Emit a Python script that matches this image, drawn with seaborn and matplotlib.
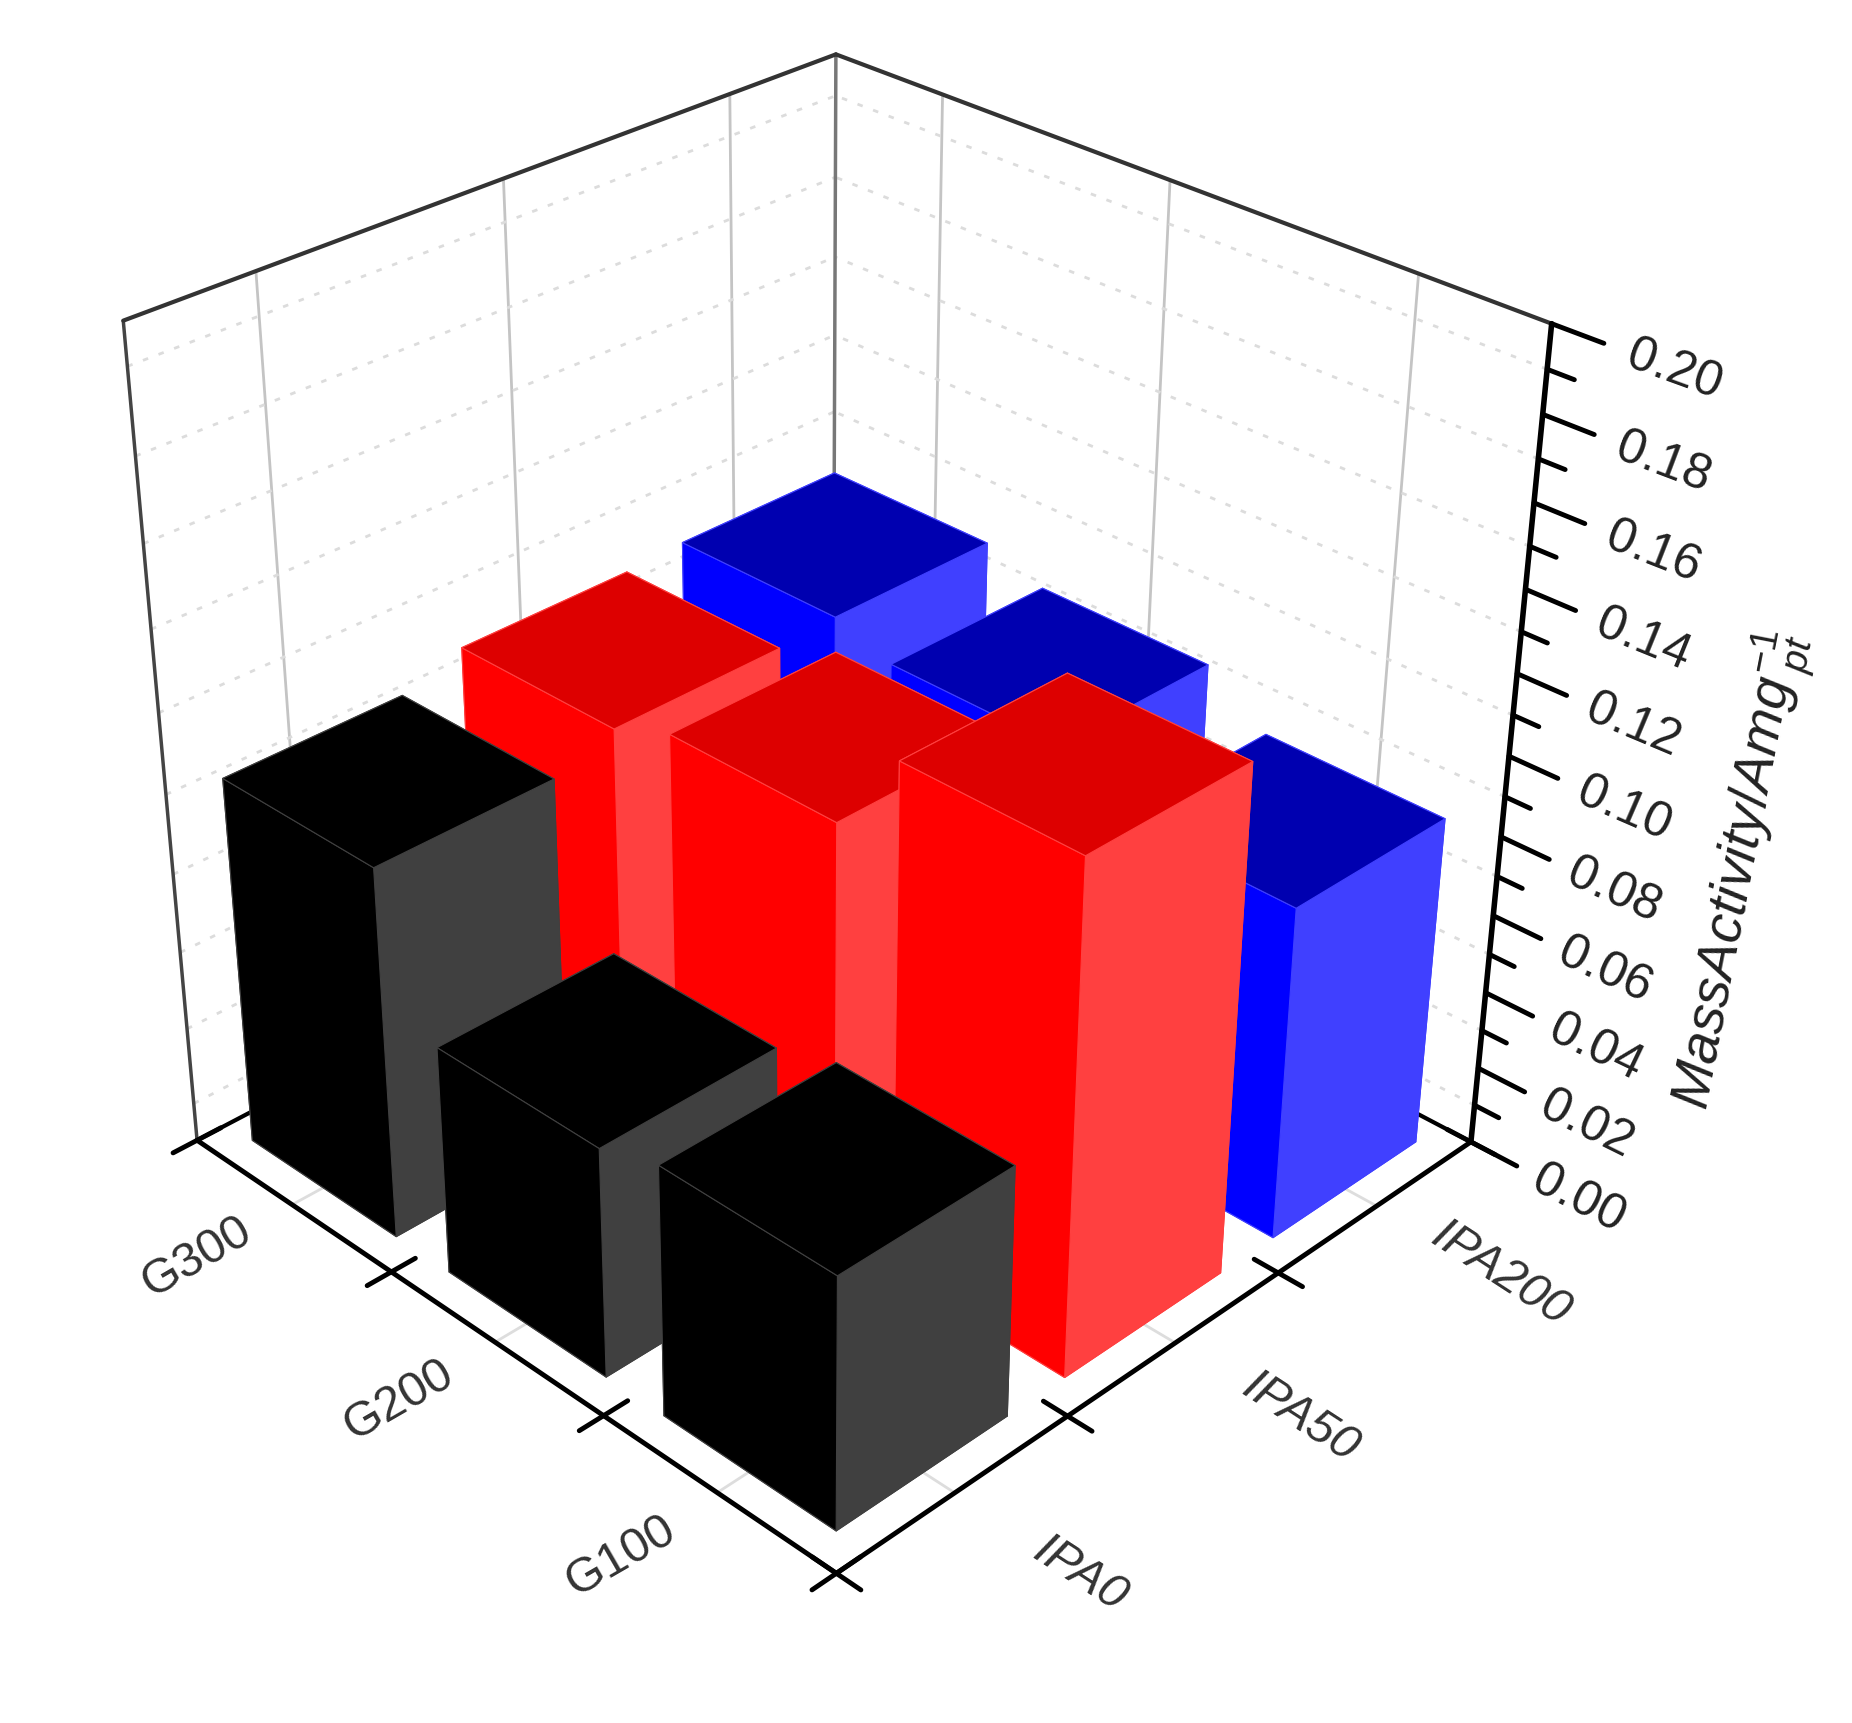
"""
mass activity 3d bars, G loading vs IPA content
"""

import matplotlib.pyplot as plt
import numpy as np
import seaborn as sns
from mpl_toolkits.mplot3d import proj3d

sns.set_theme(style="white")
plt.rcParams["font.family"] = ["Liberation Sans", "DejaVu Sans"]
plt.rcParams["mathtext.fontset"] = "custom"
plt.rcParams["mathtext.it"] = "Liberation Sans:italic"
plt.rcParams["mathtext.rm"] = "Liberation Sans"

g_labels = ["G100", "G200", "G300"]
ipa_labels = ["IPA0", "IPA50", "IPA200"]
ipa0_vals = [0.063, 0.058, 0.094]
ipa50_vals = [0.127, 0.105, 0.099]
ipa200_vals = [0.0845, 0.095, 0.100]
z_major = [0.00, 0.02, 0.04, 0.06, 0.08, 0.10, 0.12, 0.14, 0.16, 0.18, 0.20]
z_minor = [0.01, 0.03, 0.05, 0.07, 0.09, 0.11, 0.13, 0.15, 0.17, 0.19]

# left face, top, right face
faces = {
    0: ("#000000", "#000000", "#404040"),
    1: ("#ff0000", "#dd0000", "#ff4040"),
    2: ("#0000ff", "#0000b0", "#4040ff"),
}

fig = plt.figure(figsize=(18.52, 17.24), dpi=100)
ax = fig.add_axes([-0.062, 0.012, 1.0, 1.07], projection="3d")
ax.set_proj_type("persp", focal_length=0.43)
ax.view_init(elev=31, azim=-135.3, roll=-0.25)
ax.set_box_aspect((1, 1, 1.0), zoom=0.868)
ax.set_xlim(0, 3)
ax.set_ylim(0, 3)
ax.set_zlim(0, 0.2)
ax.set_axis_off()
ax.computed_zorder = False


def seg(xs, ys, zs, color="black", lw=3, ls="-", zorder=1):
    ax.plot(xs, ys, zs, color=color, lw=lw, ls=ls, zorder=zorder, clip_on=False)


def label(x, y, z, s, **kw):
    # Text3D ignores rotation, so place it in the projected 2d coordinates
    px, py, _ = proj3d.proj_transform(x, y, z, ax.get_proj())
    ax.text2D(px, py, s, transform=ax.transData, ha="center", va="center",
              rotation_mode="anchor", zorder=60, clip_on=False, **kw)


# walls and floor grid
for c in [0.5, 1.5, 2.5]:
    seg([c, c], [3, 3], [0, 0.2], color="#c4c4c4", lw=2)
    seg([3, 3], [c, c], [0, 0.2], color="#c4c4c4", lw=2)
    seg([c, c], [0, 3], [0, 0], color="#dddddd", lw=2)
    seg([0, 3], [c, c], [0, 0], color="#dddddd", lw=2)
for z in z_minor:
    seg([0, 3], [3, 3], [z, z], color="#dcdcdc", lw=2, ls=(0, (2, 4)))
    seg([3, 3], [0, 3], [z, z], color="#dcdcdc", lw=2, ls=(0, (2, 4)))
seg([0, 0], [3, 3], [0, 0.2], color="#444444", lw=2.5)
seg([3, 3], [3, 3], [0, 0.2], color="#777777", lw=2.5)
seg([0, 3], [3, 3], [0.2, 0.2], color="#333333", lw=3)
seg([3, 3], [0, 3], [0.2, 0.2], color="#333333", lw=3)
seg([0, 3], [3, 3], [0, 0], lw=3)
seg([3, 3], [0, 3], [0, 0], lw=3)

# bars, back to front
rows = [ipa0_vals, ipa50_vals, ipa200_vals]
cells = [(i, j) for i in range(3) for j in range(3)]
cells.sort(key=lambda c: -(c[0] + c[1]))
w = 0.74
for n, (i, j) in enumerate(cells):
    left, top, right = faces[i]
    ax.bar3d(
        i + (1 - w) / 2,
        j + (1 - w) / 2,
        0,
        w,
        w,
        rows[i][j],
        color=[top, top, right, right, left, left],
        edgecolor=right,
        linewidth=0.8,
        shade=False,
        zorder=10 + n,
    )

# axis lines and ticks on top of the bars
seg([0, 3], [0, 0], [0, 0], lw=3.5, zorder=50)
seg([0, 0], [0, 3], [0, 0], lw=3.5, zorder=50)
seg([3, 3], [0, 0], [0, 0.2], lw=4, zorder=50)
for t in range(4):
    seg([t, t], [-0.1, 0.1], [0, 0], lw=3.5, zorder=50)
    seg([-0.1, 0.1], [t, t], [0, 0], lw=3.5, zorder=50)
for z in z_major:
    seg([3, 3], [0, -0.19], [z, z], lw=3.5, zorder=50)
for z in z_minor:
    seg([3, 3], [0, -0.1], [z, z], lw=3.5, zorder=50)

for i, lab in enumerate(ipa_labels):
    label(i + 0.5, -0.5, 0, lab, fontsize=35, style="italic", color="#333333", rotation=-33)
for j, lab in enumerate(g_labels):
    label(-0.39, j + 0.5, 0, lab, fontsize=35, color="#333333", rotation=30)
for z in z_major:
    label(3, -0.44, z, f"{z:.2f}", fontsize=36, color="#222222", rotation=-27 + z * 35)

fig.text(0.94, 0.495, r"$\mathit{MassActivity/Amg}^{-1}_{\ pt}$", fontsize=40,
         color="#222222", rotation=79, ha="center", va="center")

fig.savefig("out.png", dpi=100)
